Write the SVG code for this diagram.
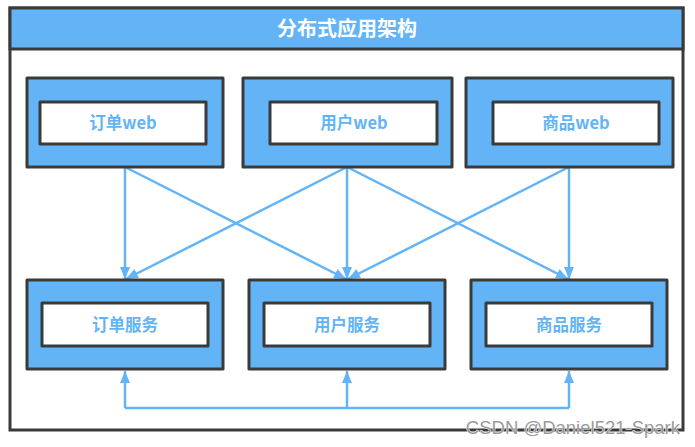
<svg xmlns="http://www.w3.org/2000/svg" width="695" height="447" viewBox="0 0 695 447">
<style>
.outer{fill:#63b4f6;stroke:#3a3a3a;stroke-width:3;stroke-linejoin:round}
.inner{fill:#ffffff;stroke:#3a3a3a;stroke-width:3;stroke-linejoin:round}
.lbl{font-family:"Noto Sans CJK SC","Liberation Sans",sans-serif;font-weight:bold;font-size:16.5px;fill:#63b4f6;text-anchor:middle}
.conn{fill:none;stroke:#63b4f6;stroke-width:2.5}
</style>
<defs>
<marker id="ah" viewBox="0 0 12 10" refX="12" refY="5" markerWidth="12" markerHeight="10" markerUnits="userSpaceOnUse" orient="auto">
<path d="M0,0 L12,5 L0,10 Z" fill="#63b4f6"/>
</marker>
</defs>
<rect width="695" height="447" fill="#ffffff"/>
<g id="frame">
<rect x="10" y="8" width="673" height="422" fill="#ffffff" stroke="#3a3a3a" stroke-width="3"/>
<rect x="10" y="8" width="673" height="41" fill="#63b4f6" stroke="#3a3a3a" stroke-width="3"/>
<text x="347" y="36" font-family="Noto Sans CJK SC,sans-serif" font-weight="bold" font-size="20" fill="#ffffff" text-anchor="middle">分布式应用架构</text>
</g>
<g id="connectors">
<line class="conn" x1="125" y1="167" x2="125" y2="279" marker-end="url(#ah)"/>
<line class="conn" x1="125" y1="167" x2="346" y2="279" marker-end="url(#ah)"/>
<line class="conn" x1="347" y1="167" x2="126" y2="279" marker-end="url(#ah)"/>
<line class="conn" x1="347" y1="167" x2="347" y2="279" marker-end="url(#ah)"/>
<line class="conn" x1="347" y1="167" x2="568" y2="279" marker-end="url(#ah)"/>
<line class="conn" x1="569" y1="167" x2="348" y2="279" marker-end="url(#ah)"/>
<line class="conn" x1="569" y1="167" x2="569" y2="279" marker-end="url(#ah)"/>
<polyline class="conn" points="125,408 569,408"/>
<line class="conn" x1="125" y1="408" x2="125" y2="371" marker-end="url(#ah)"/>
<line class="conn" x1="347" y1="408" x2="347" y2="371" marker-end="url(#ah)"/>
<line class="conn" x1="569" y1="408" x2="569" y2="371" marker-end="url(#ah)"/>
</g>
<g id="order-web">
<rect class="outer" x="27" y="78" width="196" height="89"/>
<rect class="inner" x="40" y="102" width="166" height="42"/>
<text class="lbl" x="123" y="129">订单web</text>
</g>
<g id="user-web">
<rect class="outer" x="243" y="78" width="209" height="89"/>
<rect class="inner" x="270" y="102" width="167" height="42"/>
<text class="lbl" x="354" y="129">用户web</text>
</g>
<g id="goods-web">
<rect class="outer" x="466" y="78" width="207" height="89"/>
<rect class="inner" x="493" y="102" width="166" height="42"/>
<text class="lbl" x="576" y="129">商品web</text>
</g>
<g id="order-service">
<rect class="outer" x="27" y="280" width="196" height="89"/>
<rect class="inner" x="42" y="303" width="166" height="43"/>
<text class="lbl" x="125" y="331">订单服务</text>
</g>
<g id="user-service">
<rect class="outer" x="249" y="280" width="196" height="89"/>
<rect class="inner" x="264" y="303" width="166" height="43"/>
<text class="lbl" x="347" y="331">用户服务</text>
</g>
<g id="goods-service">
<rect class="outer" x="471" y="280" width="196" height="89"/>
<rect class="inner" x="486" y="303" width="166" height="43"/>
<text class="lbl" x="569" y="331">商品服务</text>
</g>
<text x="680" y="434" font-family="Liberation Sans,sans-serif" font-size="18.5" fill="#9a9a9a" stroke="#ffffff" stroke-width="0.8" paint-order="stroke" text-anchor="end">CSDN @Daniel521-Spark</text>
</svg>
